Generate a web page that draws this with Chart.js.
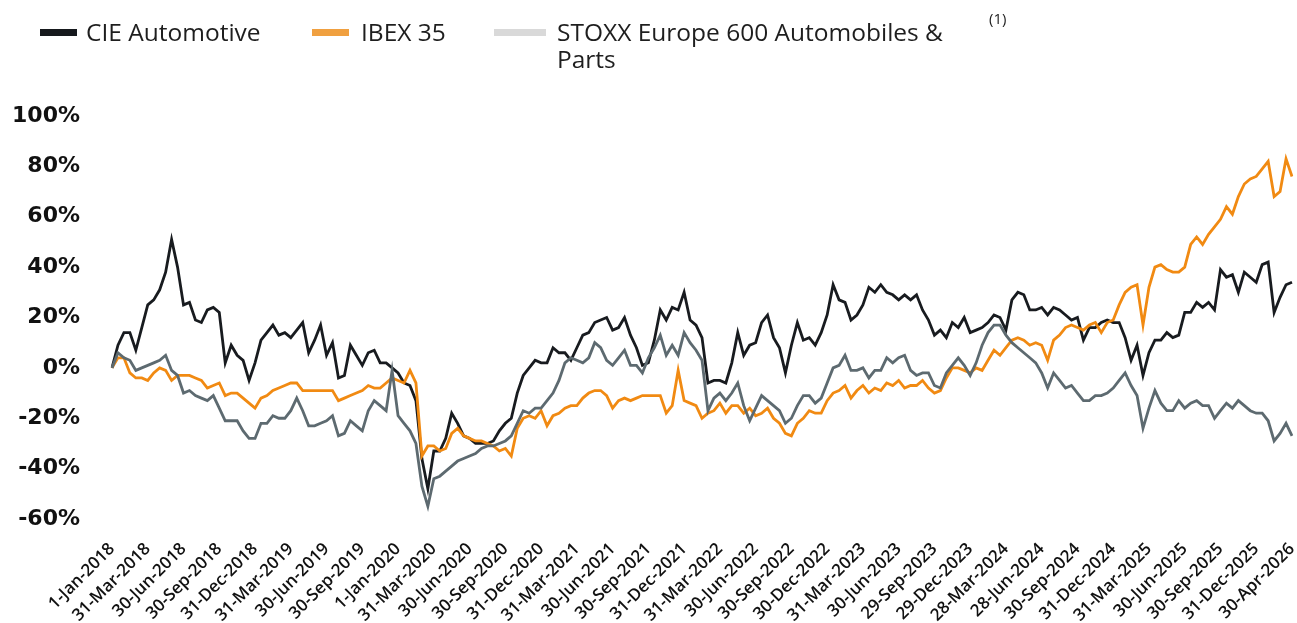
<!DOCTYPE html>
<html><head><meta charset="utf-8">
<script src="https://cdn.jsdelivr.net/npm/chart.js@4.4.1/dist/chart.umd.min.js"></script>
<style>
html,body{margin:0;padding:0;background:#fff;}
#wrap{position:relative;width:1297px;height:623px;overflow:hidden;background:#fff;}
#c{position:absolute;left:0;top:0;}
.leg{position:absolute;font-family:'Open Sans',sans-serif;font-size:24.5px;color:#1e1e1e;line-height:27px;white-space:nowrap;}
.sw{position:absolute;height:7px;}
.note{position:absolute;font-family:'Open Sans',sans-serif;font-size:15px;line-height:18px;color:#1e1e1e;}
</style></head><body>
<div id="wrap">
<canvas id="c" width="1297" height="623"></canvas>
<div class="sw" style="left:40px;top:29px;width:37px;background:#16191d"></div>
<div class="leg" style="left:86px;top:18px">CIE Automotive</div>
<div class="sw" style="left:312px;top:29px;width:37px;background:#f0a040"></div>
<div class="leg" style="left:361px;top:18px">IBEX 35</div>
<div class="sw" style="left:494px;top:29px;width:52px;background:#d9d9d9"></div>
<div class="leg" style="left:557px;top:18px">STOXX Europe 600 Automobiles &amp;<br>Parts</div>
<div class="note" style="left:989px;top:9px">(1)</div>
</div>
<script>
const tickLabels = ['1-Jan-2018','31-Mar-2018','30-Jun-2018','30-Sep-2018','31-Dec-2018','31-Mar-2019','30-Jun-2019','30-Sep-2019','1-Jan-2020','31-Mar-2020','30-Jun-2020','30-Sep-2020','31-Dec-2020','31-Mar-2021','30-Jun-2021','30-Sep-2021','31-Dec-2021','31-Mar-2022','30-Jun-2022','30-Sep-2022','30-Dec-2022','31-Mar-2023','30-Jun-2023','29-Sep-2023','29-Dec-2023','28-Mar-2024','28-Jun-2024','30-Sep-2024','31-Dec-2024','31-Mar-2025','30-Jun-2025','30-Sep-2025','31-Dec-2025','30-Apr-2026'];
const pointsPerTick = 6;

const cie = [0,9,14,14,7,16,25,27,31,38,51,40,25,26,19,18,23,24,22,2,9,5,3,-5,2,11,14,17,13,14,12,15,18,6,11,17,5,10,-4,-3,9,5,1,6,7,2,2,0,-2,-6,-7,-13,-36,-48,-33,-33,-28,-18,-22,-27,-28,-30,-30,-30,-29,-25,-22,-20,-10,-3,0,3,2,2,8,6,6,3,8,13,14,18,19,20,15,16,20,13,8,1,2,11,23,19,24,23,30,19,17,12,-6,-5,-5,-6,2,14,5,9,10,18,21,12,8,-2,9,18,11,12,9,14,21,33,27,26,19,21,25,32,30,33,30,29,27,29,27,29,23,19,13,15,12,18,16,20,14,15,16,18,21,20,15,27,30,29,23,23,24,21,24,23,21,19,20,11,16,16,18,19,18,18,12,3,9,-3,6,11,11,14,12,13,22,22,26,24,26,23,39,36,37,30,38,36,34,41,42,22,28,33,34];

const ibex = [0,4,4,-2,-4,-4,-5,-2,0,-1,-5,-3,-3,-3,-4,-5,-8,-7,-6,-11,-10,-10,-12,-14,-16,-12,-11,-9,-8,-7,-6,-6,-9,-9,-9,-9,-9,-9,-13,-12,-11,-10,-9,-7,-8,-8,-6,-4,-5,-6,-1,-6,-35,-31,-31,-33,-32,-26,-24,-27,-28,-29,-29,-30,-31,-33,-32,-35,-24,-20,-19,-20,-17,-23,-19,-18,-16,-15,-15,-12,-10,-9,-9,-11,-16,-13,-12,-13,-12,-11,-11,-11,-11,-18,-15,-1,-13,-14,-15,-20,-18,-17,-14,-18,-15,-15,-18,-16,-19,-18,-16,-20,-22,-26,-27,-22,-20,-17,-18,-18,-13,-10,-9,-7,-12,-9,-7,-10,-8,-9,-6,-7,-5,-8,-7,-7,-5,-8,-10,-9,-4,0,0,-1,-2,0,-1,3,7,5,8,11,12,11,9,10,9,3,11,13,16,17,16,15,17,18,14,18,19,25,30,32,33,17,32,40,41,39,38,38,40,49,52,49,53,56,59,64,61,68,73,75,76,79,82,68,70,83,76];

const stoxx = [0,6,4,3,-1,0,1,2,3,5,-1,-3,-10,-9,-11,-12,-13,-11,-16,-21,-21,-21,-25,-28,-28,-22,-22,-19,-20,-20,-17,-12,-17,-23,-23,-22,-21,-19,-27,-26,-21,-23,-25,-17,-13,-15,-17,-1,-19,-22,-25,-30,-47,-55,-44,-43,-41,-39,-37,-36,-35,-34,-32,-31,-31,-30,-29,-27,-22,-17,-18,-16,-16,-13,-10,-5,2,4,3,2,4,10,8,3,1,4,7,1,1,-2,4,8,13,5,9,5,14,10,7,3,-17,-12,-10,-13,-10,-6,-15,-21,-16,-11,-13,-15,-17,-22,-20,-15,-11,-11,-14,-12,-6,0,1,5,-1,-1,0,-4,-1,-1,4,2,4,5,-1,-3,-2,-2,-7,-8,-2,1,4,1,-3,2,9,14,17,17,13,10,8,6,4,2,-2,-8,-2,-5,-8,-7,-10,-13,-13,-11,-11,-10,-8,-5,-2,-7,-11,-24,-16,-9,-14,-17,-17,-13,-16,-14,-13,-15,-15,-20,-17,-14,-16,-13,-15,-17,-18,-18,-21,-29,-26,-22,-27];

const yTicks = {min:-60, max:100, step:20};

const categories = cie.map((_, i) => (i % pointsPerTick === 0 ? tickLabels[i / pointsPerTick] : ''));

const lineStyle = {borderWidth:2.8, pointRadius:0, pointHoverRadius:0, tension:0, fill:false};

new Chart(document.getElementById('c'), {
  type:'line',
  data:{
    labels:categories,
    datasets:[
      Object.assign({label:'CIE Automotive', data:cie, borderColor:'#181b1f', order:3}, lineStyle),
      Object.assign({label:'IBEX 35', data:ibex, borderColor:'#f18a12', order:2}, lineStyle),
      Object.assign({label:'STOXX Europe 600 Automobiles & Parts', data:stoxx, borderColor:'#5d6a70', order:1}, lineStyle)
    ]
  },
  options:{
    responsive:false,
    animation:false,
    layout:{padding:{top:116, right:5, left:0, bottom:0}},
    plugins:{legend:{display:false}, tooltip:{enabled:false}},
    scales:{
      x:{
        grid:{display:false, drawTicks:false},
        border:{display:false},
        ticks:{autoSkip:false, maxRotation:45, minRotation:45, padding:20,
          font:{family:'Open Sans', size:17, weight:'600'}, color:'#111'},
        afterFit(s){ s.height = 104; s.paddingRight = 0; s.paddingLeft = 0; }
      },
      y:{
        min:yTicks.min, max:yTicks.max,
        grid:{display:false, drawTicks:false},
        border:{display:false},
        ticks:{stepSize:yTicks.step, padding:32, callback:v => v + '%',
          font:{family:'DejaVu Sans', size:22, weight:'bold'}, color:'#111'},
        afterFit(s){ s.width = 112; }
      }
    }
  }
});
</script>
</body></html>
